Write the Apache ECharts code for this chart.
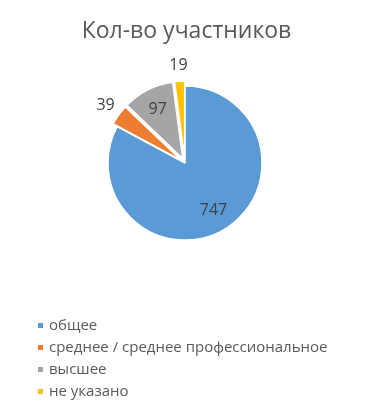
<!DOCTYPE html>
<html><head><meta charset="utf-8">
<script src="https://cdn.jsdelivr.net/npm/echarts@6/dist/echarts.min.js"></script>
<style>html,body{margin:0;padding:0;background:#fff}#c{width:373px;height:415px}</style>
</head><body><div id="c"></div>
<script>
const titleText = 'Кол-во участников';
const categories = ['общее', 'среднее / среднее профессиональное', 'высшее', 'не указано'];
const values = [747, 39, 97, 19];
const colors = ['#5B9BD5', '#ED7D31', '#A5A5A5', '#FFC000'];

const total = values.reduce((a, b) => a + b, 0);
const isSmall = i => values[i] / total < 0.05;
const FONT = '"Open Sans", sans-serif';
const center = [185, 163];
const R = 77;

const common = {
  type: 'pie', center: center, startAngle: 90, clockwise: true,
  selectedMode: 'multiple', selectedOffset: 5, animation: false,
  emphasis: { disabled: true }, labelLine: { show: false }
};

function labelSeries(radius, showFn) {
  return Object.assign({}, common, {
    radius: radius, silent: true, z: 3,
    itemStyle: { color: 'transparent', borderWidth: 0 },
    label: { show: true, position: 'inside', formatter: '{c}', fontFamily: FONT, fontSize: 16, color: '#404040' },
    data: categories.map((n, i) => ({ name: n, value: values[i], selected: i !== 0, label: { show: showFn(i) } }))
  });
}

const chart = echarts.init(document.getElementById('c'), null, { renderer: 'canvas' });
chart.setOption({
  animation: false,
  color: colors,
  title: {
    text: titleText, left: 'center', top: 20, padding: 0,
    textStyle: { fontFamily: FONT, fontSize: 23, fontWeight: 'normal', color: '#595959' }
  },
  legend: {
    orient: 'vertical', left: 36, top: 318, padding: 0, icon: 'rect',
    itemWidth: 7, itemHeight: 7, itemGap: 7, selectedMode: false,
    textStyle: { fontFamily: FONT, fontSize: 15, color: '#595959' },
    data: categories
  },
  series: [
    Object.assign({}, common, {
      name: 'main', radius: R,
      label: { show: false },
      itemStyle: { borderColor: '#fff', borderWidth: 1.5 },
      data: categories.map((n, i) => ({ name: n, value: values[i], selected: i !== 0 }))
    }),
    labelSeries([R * 0.36, R], i => !isSmall(i)),
    labelSeries([R, R * 1.34], i => isSmall(i))
  ]
});
</script></body></html>
